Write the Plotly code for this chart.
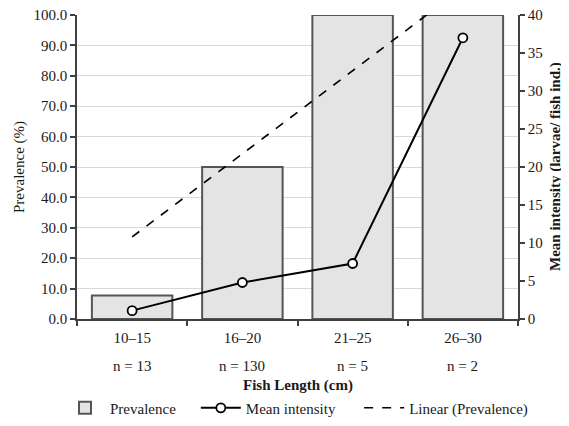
import plotly.graph_objects as go

CATEGORIES = ["10–15", "16–20", "21–25", "26–30"]
N_LABELS = ["n = 13", "n = 130", "n = 5", "n = 2"]
PREVALENCE = [7.7, 50.0, 100.0, 100.0]
MEAN_INTENSITY = [1.1, 4.8, 7.3, 37.0]
TREND_X = ["10–15", "26–30"]
TREND_Y = [27.0, 109.0]

FONT = "Liberation Serif"
AXIS_COLOR = "#404040"
TXT = "#1a1a1a"
FS = 15
NB = "\u00a0"

fig = go.Figure()
fig.add_trace(go.Bar(
    x=CATEGORIES, y=PREVALENCE, name="Prevalence" + NB * 4,
    marker=dict(color="#e4e4e4", line=dict(color="#555555", width=2)),
    yaxis="y", legendrank=1,
))
fig.add_trace(go.Scatter(
    x=TREND_X, y=TREND_Y, name="Linear (Prevalence)", mode="lines",
    line=dict(color="black", width=1.6, dash="dash"),
    yaxis="y", legendrank=3,
))
fig.add_trace(go.Scatter(
    x=CATEGORIES, y=MEAN_INTENSITY, name="Mean intensity" + NB * 5, mode="lines+markers",
    line=dict(color="black", width=2),
    marker=dict(symbol="circle", size=9, color="white", line=dict(color="black", width=1.8)),
    yaxis="y2", legendrank=2,
))

annotations = [
    dict(x=c, y=0, xref="x", yref="paper", yshift=-47, text=n, showarrow=False,
         font=dict(family=FONT, size=FS, color=TXT), yanchor="middle")
    for c, n in zip(CATEGORIES, N_LABELS)
]
annotations += [
    dict(x=0.5, y=0, xref="paper", yref="paper", yshift=-66, text="<b>Fish Length (cm)</b>",
         showarrow=False, font=dict(family=FONT, size=FS, color=TXT), yanchor="middle"),
    dict(x=0, y=0.5, xref="paper", yref="paper", xshift=-58, text="Prevalence (%)",
         textangle=-90, showarrow=False, font=dict(family=FONT, size=FS, color=TXT),
         xanchor="center", yanchor="middle"),
    dict(x=1, y=0.5, xref="paper", yref="paper", xshift=37,
         text="<b>Mean intensity (larvae/ fish ind.)</b>",
         textangle=-90, showarrow=False, font=dict(family=FONT, size=FS, color=TXT),
         xanchor="center", yanchor="middle"),
]

fig.update_layout(
    width=561, height=418,
    margin=dict(l=69, r=51, t=7, b=107, autoexpand=False),
    paper_bgcolor="white", plot_bgcolor="white",
    font=dict(family=FONT, size=FS, color=TXT),
    bargap=0.27,
    showlegend=True,
    legend=dict(orientation="h", x=-0.0385, xanchor="left",
                y=-0.293, yanchor="middle",
                font=dict(family=FONT, size=FS, color=TXT),
                traceorder="normal", itemwidth=40),
    xaxis=dict(
        type="category", categoryorder="array", categoryarray=CATEGORIES,
        showline=True, linecolor=AXIS_COLOR, linewidth=1.5,
        ticks="outside", ticklen=5, tickcolor=AXIS_COLOR, tickwidth=1.5,
        tickson="boundaries", showgrid=False, automargin=False,
        ticklabelstandoff=4,
        range=[-0.5, 3.5],
    ),
    xaxis2=dict(
        overlaying="x", anchor="y", side="bottom",
        range=[-0.5, 3.5], tickmode="array", tickvals=[0, 1, 2, 3],
        showticklabels=False, showline=False, showgrid=False, zeroline=False,
        ticks="outside", ticklen=4, tickcolor=AXIS_COLOR, tickwidth=1.5,
        automargin=False,
    ),
    yaxis=dict(
        range=[0, 100], dtick=10, tickformat=".1f",
        showline=True, linecolor=AXIS_COLOR, linewidth=1.5,
        ticks="outside", ticklen=5, tickcolor=AXIS_COLOR, tickwidth=1.5,
        showgrid=True, gridcolor="#d9d9d9", gridwidth=1,
        zeroline=False, automargin=False, ticklabeloverflow="allow",
    ),
    yaxis2=dict(
        overlaying="y", side="right", range=[0, 40], dtick=5,
        showline=True, linecolor=AXIS_COLOR, linewidth=1.5,
        ticks="outside", ticklen=5, tickcolor=AXIS_COLOR, tickwidth=1.5,
        showgrid=False, zeroline=False, automargin=False, ticklabeloverflow="allow",
    ),
    annotations=annotations,
)

fig.write_html("out.html")
